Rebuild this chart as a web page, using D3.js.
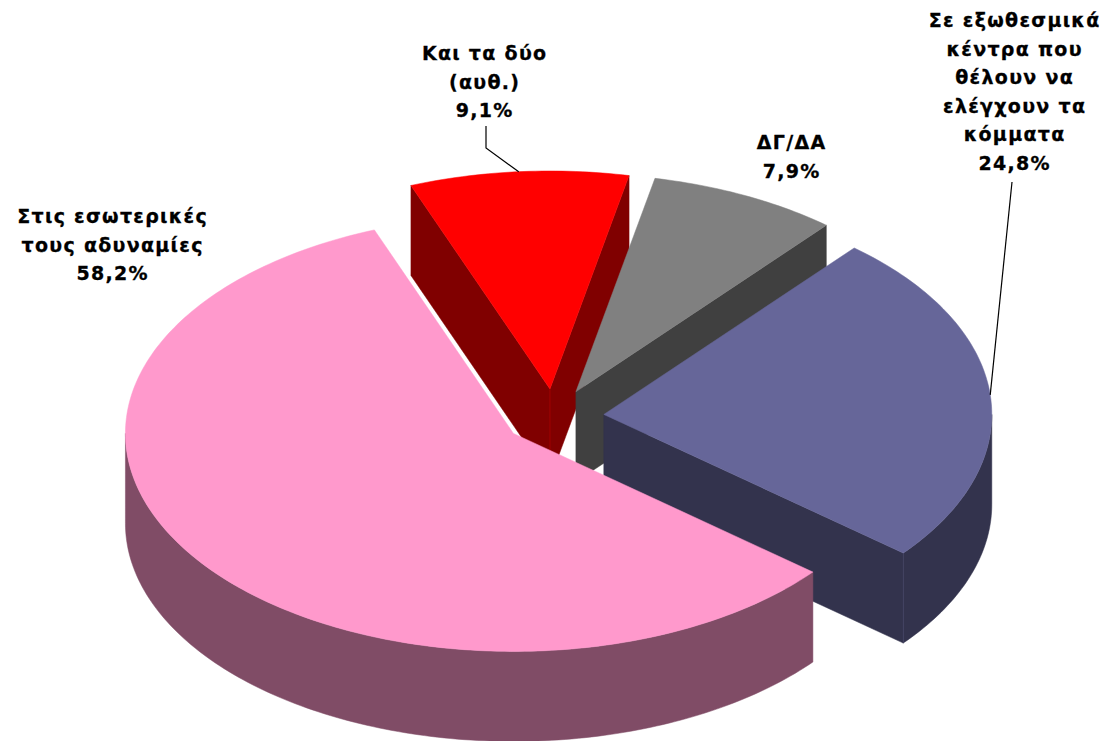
<!DOCTYPE html>
<html><head><meta charset="utf-8">
<script src="https://cdn.jsdelivr.net/npm/d3@7"></script>
<style>body{margin:0;background:#fff}svg{display:block}</style>
</head><body><svg id="c" width="1110" height="741"></svg>
<script>
// ---- data ----
const categories = ["Και τα δύο (αυθ.)", "ΔΓ/ΔΑ", "Σε εξωθεσμικά κέντρα που θέλουν να ελέγχουν τα κόμματα", "Στις εσωτερικές τους αδυναμίες"];
const values = [9.1, 7.9, 24.8, 58.2];
const labelLines = [["Και τα δύο", "(αυθ.)"], ["ΔΓ/ΔΑ"], ["Σε εξωθεσμικά", "κέντρα που", "θέλουν να", "ελέγχουν τα", "κόμματα"], ["Στις εσωτερικές", "τους αδυναμίες"]];
const topColors = ["#FF0000", "#808080", "#666699", "#FF99CC"];
const sideColors = ["#800000", "#404040", "#33334D", "#804C66"];

// ---- layout ----
const W = 1110, H = 741;
const cx = 554, cy = 417, rx = 388, ry = 218, depth = 90, explode = 50;
const startRad = -21 * Math.PI / 180;
const labelPos = [{x: 484, y: 60}, {x: 791, y: 149}, {x: 1014, y: 27}, {x: 112, y: 223}];
const leaderStart = [[[486, 126], [486, 148]], null, [[1012, 182]], null];
const lineH = 28.5;
const letterSp = 1.3;

const svg = d3.select("#c");
const fmt = v => d3.format(".1f")(v).replace(".", ",") + "%";

const pie = d3.pie().sort(null).value(d => d).startAngle(startRad).endAngle(startRad + 2 * Math.PI);
const arcs = pie(values).map((a, i) => {
  const mid = (a.startAngle + a.endAngle) / 2;
  const ox = explode * Math.sin(mid), oy = -explode * (ry / rx) * Math.cos(mid);
  return Object.assign(a, {i, mid, ox, oy});
});

const P = (a, ang, dz = 0) => [cx + a.ox + rx * Math.sin(ang), cy + a.oy - ry * Math.cos(ang) + dz];
const apex = (a, dz = 0) => [cx + a.ox, cy + a.oy + dz];
const line = d3.line();
const arcPts = (a, a0, a1, dz = 0) => {
  const n = Math.max(2, Math.ceil(Math.abs(a1 - a0) / (Math.PI / 180)));
  return d3.range(n + 1).map(k => P(a, a0 + (a1 - a0) * k / n, dz));
};

// draw back-to-front
const order = arcs.slice().sort((a, b) => (-Math.cos(a.mid)) - (-Math.cos(b.mid)));
order.forEach(a => {
  const g = svg.append("g");
  const side = sideColors[a.i];
  const startVis = -Math.cos(a.startAngle - Math.PI / 2) > 0;
  const endVis = -Math.cos(a.endAngle + Math.PI / 2) > 0;
  if (startVis) {
    g.append("path").attr("d", line([apex(a), P(a, a.startAngle), P(a, a.startAngle, depth), apex(a, depth)]) + "Z")
      .attr("fill", side).attr("stroke", side).attr("stroke-width", 0.5);
  }
  if (endVis) {
    g.append("path").attr("d", line([apex(a), P(a, a.endAngle), P(a, a.endAngle, depth), apex(a, depth)]) + "Z")
      .attr("fill", side).attr("stroke", side).attr("stroke-width", 0.5);
  }
  // outer wall (front half: 90°..270°)
  [[Math.PI / 2, 3 * Math.PI / 2], [Math.PI / 2 + 2 * Math.PI, 3 * Math.PI / 2 + 2 * Math.PI], [Math.PI / 2 - 2 * Math.PI, 3 * Math.PI / 2 - 2 * Math.PI]].forEach(([v0, v1]) => {
    const s = Math.max(v0, a.startAngle), e = Math.min(v1, a.endAngle);
    if (e > s) {
      const pts = arcPts(a, s, e).concat(arcPts(a, e, s, depth));
      g.append("path").attr("d", line(pts) + "Z").attr("fill", side).attr("stroke", side).attr("stroke-width", 0.5);
    }
  });
  const edgeCol = d3.color(side).brighter(0.8);
  if (startVis && endVis) {
    g.append("path").attr("d", line([apex(a), apex(a, depth)])).attr("stroke", edgeCol).attr("stroke-width", 0.8);
  }
  if (endVis && -Math.cos(a.endAngle) > 0) {
    g.append("path").attr("d", line([P(a, a.endAngle), P(a, a.endAngle, depth)])).attr("stroke", edgeCol).attr("stroke-width", 0.8);
  }
  // top face
  const top = [apex(a)].concat(arcPts(a, a.startAngle, a.endAngle));
  g.append("path").attr("d", line(top) + "Z").attr("fill", topColors[a.i]).attr("stroke", topColors[a.i]).attr("stroke-width", 0.5);
});

// leader lines
arcs.forEach(a => {
  const ls = leaderStart[a.i];
  if (!ls) return;
  const end = P(a, a.mid);
  svg.append("path").attr("d", line(ls.concat([end]))).attr("fill", "none").attr("stroke", "#000").attr("stroke-width", 1.2);
});

// labels
arcs.forEach(a => {
  const lp = labelPos[a.i];
  const lines = labelLines[a.i].concat([fmt(values[a.i])]);
  const t = svg.append("text").attr("text-anchor", "middle")
    .attr("font-family", "Verdana, 'DejaVu Sans', sans-serif").attr("font-weight", "bold").attr("font-size", 19)
    .attr("letter-spacing", letterSp).attr("fill", "#000").attr("stroke", "#000").attr("stroke-width", 0.3);
  lines.forEach((s, k) => t.append("tspan").attr("x", lp.x + letterSp / 2).attr("y", lp.y + k * lineH).text(s));
});
</script>
</body></html>
